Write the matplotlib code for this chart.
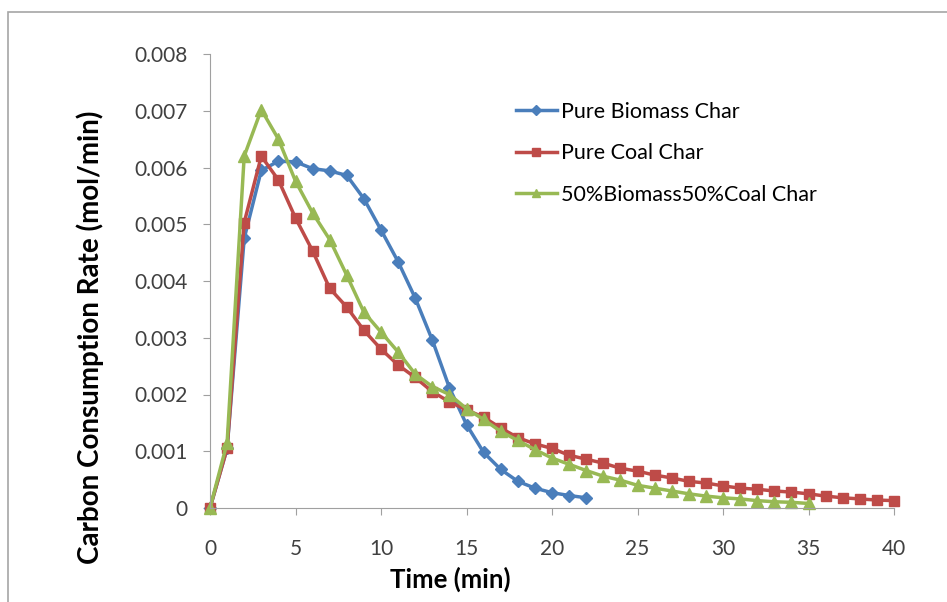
import matplotlib
matplotlib.use("Agg")
import matplotlib.pyplot as plt
from matplotlib.patches import Rectangle
import numpy as np

plt.rcParams["font.family"] = ["Lato", "DejaVu Sans"]

time_biomass = np.arange(0, 23)
rate_biomass = [0, 0.00105, 0.00475, 0.00595, 0.00611, 0.0061, 0.00598, 0.00594,
                0.00586, 0.00545, 0.0049, 0.00434, 0.0037, 0.00296, 0.00212,
                0.00147, 0.00098, 0.00068, 0.00047, 0.00035, 0.00027, 0.00022,
                0.00018]

time_coal = np.arange(0, 41)
rate_coal = [0, 0.00105, 0.00503, 0.0062, 0.00578, 0.00511, 0.00453, 0.00387,
             0.00354, 0.00313, 0.0028, 0.00252, 0.0023, 0.00205, 0.00187,
             0.00173, 0.0016, 0.00141, 0.00124, 0.00113, 0.00105, 0.00093,
             0.00086, 0.00079, 0.0007, 0.00065, 0.00058, 0.00053, 0.00047,
             0.00044, 0.00039, 0.00035, 0.00033, 0.0003, 0.00028, 0.00025,
             0.00021, 0.00018, 0.00016, 0.00014, 0.00013]

time_blend = np.arange(0, 36)
rate_blend = [0, 0.00115, 0.0062, 0.00702, 0.0065, 0.00576, 0.0052, 0.00473,
              0.0041, 0.00345, 0.0031, 0.00275, 0.00236, 0.00214, 0.002,
              0.00175, 0.00156, 0.00135, 0.00119, 0.00103, 0.00088, 0.00077,
              0.00066, 0.00056, 0.00049, 0.0004, 0.00035, 0.0003, 0.00025,
              0.00021, 0.00018, 0.00016, 0.00013, 0.00011, 0.0001, 0.00008]

x_ticks = [0, 5, 10, 15, 20, 25, 30, 35, 40]
y_ticks = [0, 0.001, 0.002, 0.003, 0.004, 0.005, 0.006, 0.007, 0.008]
y_tick_labels = ["0", "0.001", "0.002", "0.003", "0.004", "0.005", "0.006",
                 "0.007", "0.008"]

W, H = 947, 602
fig = plt.figure(figsize=(W / 100, H / 100), dpi=100)
# chart area border
fig.patches.append(Rectangle((8 / W, -0.01), 1.0, 1 - 12 / H + 0.01,
                             transform=fig.transFigure, fill=False,
                             edgecolor="#a6a6a6", linewidth=1.2))
ax = fig.add_axes([210 / W, 1 - 508 / H, 684 / W, 454 / H])

ax.plot(time_biomass, rate_biomass, color="#4A7EBB", marker="D", markersize=6.5,
        linewidth=2.5, label="Pure Biomass Char")
ax.plot(time_coal, rate_coal, color="#BE4B48", marker="s", markersize=6.5,
        linewidth=2.5, label="Pure Coal Char")
ax.plot(time_blend, rate_blend, color="#98B954", marker="^", markersize=8,
        linewidth=2.5, label="50%Biomass50%Coal Char")

ax.set_xlim(0, 40)
ax.set_ylim(0, 0.008)
ax.set_xticks(x_ticks)
ax.set_yticks(y_ticks)
ax.set_yticklabels(y_tick_labels)
for line in ax.lines:
    line.set_clip_on(False)

for side in ["top", "right"]:
    ax.spines[side].set_visible(False)
for side in ["left", "bottom"]:
    ax.spines[side].set_color("#a0a0a0")
ax.tick_params(direction="out", length=5, color="#a0a0a0", labelsize=15,
               labelcolor="#404040")
ax.tick_params(axis="y", pad=11)
ax.tick_params(axis="x", pad=17)

ax.set_xlabel("Time (min)", fontsize=18.5, fontweight="bold")
ax.xaxis.set_label_coords((450 - 210) / 684, -(567 - 508) / 454)
ax.set_ylabel("Carbon Consumption Rate (mol/min)", fontsize=20,
              fontweight="bold")
ax.yaxis.set_label_coords(-(210 - 104) / 684, (508 - 337) / 454)

ax.legend(loc="upper left", bbox_to_anchor=(505 / W, 1 - 91 / H),
          bbox_transform=fig.transFigure, frameon=False, borderpad=0,
          fontsize=15.5, handlelength=1.9, labelspacing=1.0,
          handletextpad=0.2, markerscale=0.8)

fig.savefig("out.png", dpi=100)
